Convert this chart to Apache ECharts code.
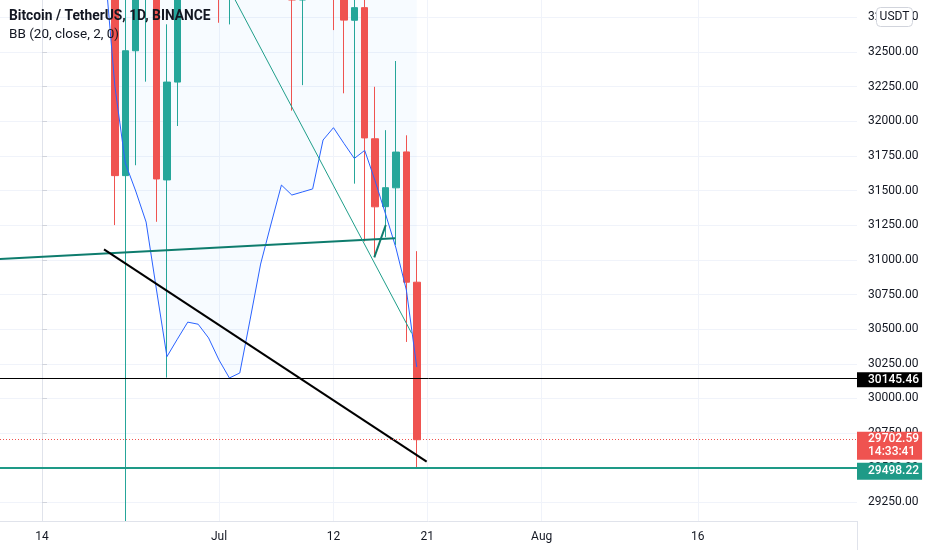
<!DOCTYPE html>
<html>
<head>
<meta charset="utf-8">
<script src="https://cdn.jsdelivr.net/npm/echarts@6/dist/echarts.min.js"></script>
<style>
html,body{margin:0;padding:0;background:#ffffff;}
#chart{width:932px;height:550px;}
</style>
</head>
<body>
<div id="chart"></div>
<script>
// ---------- data ----------
const candleDates = ['2021-06-21','2021-06-22','2021-06-23','2021-06-24','2021-06-25','2021-06-26','2021-06-27','2021-06-28','2021-06-29','2021-06-30',
  '2021-07-01','2021-07-02','2021-07-03','2021-07-04','2021-07-05','2021-07-06','2021-07-07','2021-07-08','2021-07-09','2021-07-10',
  '2021-07-11','2021-07-12','2021-07-13','2021-07-14','2021-07-15','2021-07-16','2021-07-17','2021-07-18','2021-07-19','2021-07-20'];
const opens  = [35600,31608,32509,33675,34663,31577,32283,34702,34494,35911,35045,33502,33786,34668,35288,33690,34220,33863,32875,33816,33503,34259,33086,32729,32820,31874,31384,31520,31779,30839];
const closes = [31608,32509,33678,34663,31584,32283,34700,34494,35911,35045,33504,33786,34669,35286,33690,34220,33862,32875,33815,33502,34259,33086,32730,32820,31880,31383,31521,31778,30839,29702.59];
const lows   = [31251,28805,31683,32286,31275,30151,31966,33862,34225,34017,32711,32699,33316,34358,33125,33533,33777,32077,32261,33004,33310,32658,32202,31550,31133,31020,31164,31108,30408,29498.22];
const highs  = [35750,33298,34881,35298,35500,32700,34749,35297,36600,36100,35057,33977,34945,35967,35293,35118,35059,33929,34100,34262,34590,34678,33340,33114,33185,32249,31936,32435,31899,31063];

// Bollinger lower band (BB 20, close, 2)
const bbDates = ['2021-06-20','2021-06-21','2021-06-22','2021-06-23','2021-06-24','2021-06-25','2021-06-26','2021-06-27','2021-06-28','2021-06-29','2021-06-30',
  '2021-07-01','2021-07-02','2021-07-03','2021-07-04','2021-07-05','2021-07-06','2021-07-07','2021-07-08','2021-07-09','2021-07-10',
  '2021-07-11','2021-07-12','2021-07-13','2021-07-14','2021-07-15','2021-07-16','2021-07-17','2021-07-18','2021-07-19','2021-07-20'];
const bbLower = [33142,32254,31699,31497,31273,30783,30302,30428,30551,30536,30437,30278,30148,30184,30573,30970,31259,31540,31468,31490,31512,31865,31954,31841,31732,31790,31570,31331,31086,30783,30227];

// drawn lines: [day offset from 2021-06-14, price]
const rangeLinePts   = [[-4.5, 31004.7], [33.91, 31155.9]];
const fallLinePts    = [[18.0, 32954.2], [35.51, 30470.4]];
const hookLinePts    = [[31.92, 31018.8], [33.02, 31251.8]];
const supportLinePts = [[5.956, 31076.5], [36.95, 29544.0]];

// price levels
const levelLine = 30145.46;
const lastPrice = 29702.59;
const lowLine = 29498.22;
const countdown = '14:33:41';

// axis ticks
const tickDates  = ['2021-06-14','2021-07-01','2021-07-12','2021-07-21','2021-08-01','2021-08-16'];
const tickLabels = ['14','Jul','12','21','Aug','16'];
const priceTicks = [29250,29500,29750,30000,30250,30500,30750,31000,31250,31500,31750,32000,32250,32500,32750];

const titleText = 'Bitcoin / TetherUS, 1D, BINANCE';
const subText = 'BB (20, close, 2, 0)';

// ---------- build ----------
const DAY0 = Date.UTC(2021, 5, 14);
const toDay = d => (Date.parse(d + 'T00:00:00Z') - DAY0) / 86400000;

const candleData = candleDates.map((d, i) => [toDay(d), opens[i], closes[i], lows[i], highs[i]]);
const bbData = bbDates.map((d, i) => [toDay(d), bbLower[i]]);
const tickDays = tickDates.map(toDay);

const X_MIN = -4.035, X_MAX = 78.29;
const Y_MIN = 29116.1, Y_MAX = 32875.2;
const GRID_H = 521;
const pxPerUnit = GRID_H / (Y_MAX - Y_MIN);

const FONT = 'Roboto, "Noto Sans", sans-serif';
const TXT = '#131722';

function tagAxis(value, text, bg, shiftPx, lh) {
  const v = value - shiftPx / pxPerUnit;
  return {
    type: 'value', position: 'right', min: Y_MIN, max: Y_MAX, z: 12,
    axisLine: {show: false}, splitLine: {show: false},
    axisTick: {show: false, customValues: [v]},
    axisLabel: {
      customValues: [v], formatter: () => text, margin: 0,
      color: '#ffffff', fontSize: 12, fontFamily: FONT, fontWeight: 500,
      backgroundColor: bg, padding: [1, 3, 1, 11], lineHeight: lh, align: 'left'
    }
  };
}

const lineSeries = (pts, color, width, z) => ({
  type: 'line', data: pts, symbol: 'none', silent: true, clip: true, z: z,
  lineStyle: {color: color, width: width}, animation: false
});

const xLabelFormatter = v => { const i = tickDays.findIndex(t => Math.abs(t - v) < 1e-6); return i >= 0 ? tickLabels[i] : ''; };

const chart = echarts.init(document.getElementById('chart'), null, {renderer: 'canvas'});
chart.setOption({
  animation: false,
  backgroundColor: '#ffffff',
  title: {
    left: 9, top: 10, padding: 0, itemGap: 4,
    text: titleText, subtext: subText,
    textStyle: {fontSize: 13.8, fontWeight: 'bold', color: TXT, fontFamily: FONT},
    subtextStyle: {fontSize: 13.5, color: TXT, fontFamily: FONT}
  },
  grid: {left: 0, right: 75, top: 0, bottom: 29, outerBoundsMode: 'none'},
  xAxis: [
    { // grid lines only, beneath the series
      type: 'value', min: X_MIN, max: X_MAX, z: 0,
      axisLine: {show: false}, axisLabel: {show: false},
      axisTick: {show: false, customValues: tickDays},
      splitLine: {show: true, lineStyle: {color: '#f0f3fa', width: 1}}
    },
    { // axis line and labels, above the overflow mask
      type: 'value', position: 'bottom', min: X_MIN, max: X_MAX, z: 10,
      axisLine: {show: true, lineStyle: {color: '#e0e3eb'}},
      axisTick: {show: false, customValues: tickDays},
      axisLabel: {customValues: tickDays, formatter: xLabelFormatter, color: TXT, fontSize: 12, fontFamily: FONT, margin: 10},
      splitLine: {show: false}
    }
  ],
  yAxis: [
    {
      type: 'value', position: 'right', min: Y_MIN, max: Y_MAX, z: 0,
      axisLine: {show: true, lineStyle: {color: '#e0e3eb'}},
      axisTick: {show: true, length: 5, customValues: priceTicks, lineStyle: {color: '#d1d4dc'}},
      axisLabel: {customValues: priceTicks, formatter: v => v.toFixed(2), color: TXT, fontSize: 12, fontFamily: FONT, margin: 11},
      splitLine: {show: true, lineStyle: {color: '#f0f3fa', width: 1}}
    },
    tagAxis(levelLine, levelLine.toFixed(2), '#000000', 1.5, 13),
    tagAxis(lastPrice, lastPrice.toFixed(2) + '\n' + countdown, '#ef5350', 6.1, 13),
    tagAxis(lowLine, lowLine.toFixed(2), '#1e9a87', 3.3, 15)
  ],
  series: [
    {
      type: 'line', data: bbData, symbol: 'none', silent: true, z: 1,
      lineStyle: {width: 0, opacity: 0},
      areaStyle: {origin: 'end', color: 'rgba(33,150,243,0.05)'}
    },
    {
      type: 'candlestick', data: candleData, encode: {x: 0, y: [1, 2, 3, 4]},
      barWidth: 7, z: 2, silent: true, clip: true,
      itemStyle: {color: '#26a69a', color0: '#ef5350', borderColor: '#26a69a', borderColor0: '#ef5350', borderWidth: 1},
      markLine: {
        silent: true, symbol: ['none', 'none'], label: {show: false}, animation: false,
        data: [
          {yAxis: levelLine, lineStyle: {color: '#000000', width: 1, type: 'solid'}},
          {yAxis: lastPrice, lineStyle: {color: '#ef5350', width: 1, type: [1, 2]}},
          {yAxis: lowLine, lineStyle: {color: '#1e9a87', width: 2, type: 'solid'}}
        ]
      }
    },
    {
      type: 'line', data: bbData, symbol: 'none', silent: true, z: 3,
      lineStyle: {color: '#2962ff', width: 1}
    },
    lineSeries(rangeLinePts, '#0e7c6d', 2, 4),
    lineSeries(fallLinePts, '#1f9e8a', 1, 4),
    lineSeries(hookLinePts, '#0e7c6d', 2, 4),
    lineSeries(supportLinePts, '#000000', 2, 4)
  ],
  graphic: [
    // mask the plot overflow below the x axis (wick clipping)
    {type: 'rect', shape: {x: 0, y: 521.5, width: 857, height: 29}, style: {fill: '#ffffff'}, z: 6, silent: true},
    {type: 'line', shape: {x1: 857.5, y1: 521, x2: 857.5, y2: 550}, style: {stroke: '#e0e3eb', lineWidth: 1}, z: 7, silent: true},
    {type: 'rect', shape: {x: 876.5, y: 7.5, width: 36, height: 19, r: 4}, style: {fill: '#ffffff', stroke: '#d1d4dc', lineWidth: 1}, z: 100, silent: true},
    {type: 'text', x: 894.5, y: 17, style: {text: 'USDT', fill: TXT, font: '12px ' + FONT, align: 'center', verticalAlign: 'middle'}, z: 101, silent: true}
  ]
});
</script>
</body>
</html>
